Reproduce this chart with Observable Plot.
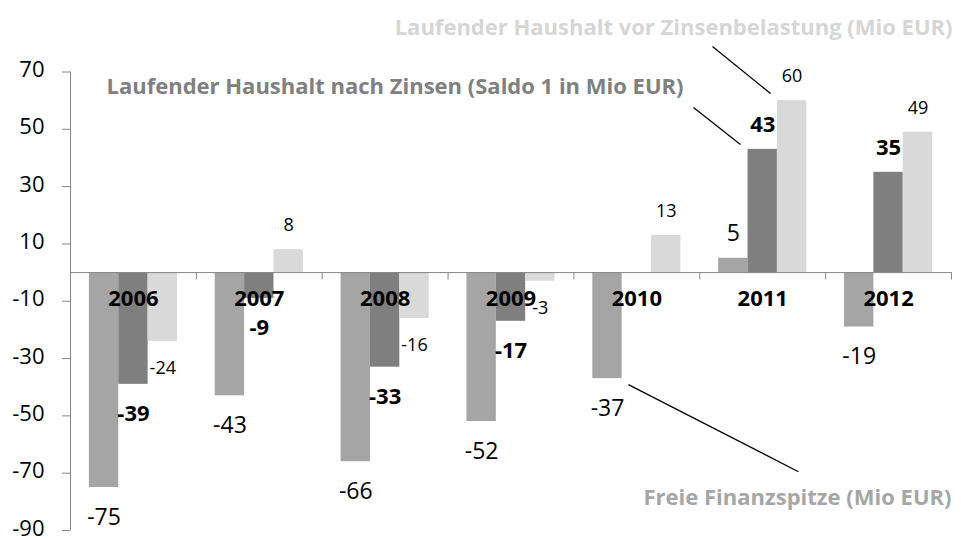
<!DOCTYPE html>
<html><head><meta charset="utf-8">
<script src="https://cdn.jsdelivr.net/npm/d3@7"></script>
<script src="https://cdn.jsdelivr.net/npm/@observablehq/plot@0.6"></script>
<style>
body{margin:0;background:#fff;}
#chart{width:961px;height:540px;overflow:hidden;}
</style>
</head><body><div id="chart"></div>
<script>
const years = ["2006","2007","2008","2009","2010","2011","2012"];
const seriesNames = [
  "Freie Finanzspitze (Mio EUR)",
  "Laufender Haushalt nach Zinsen (Saldo 1 in Mio EUR)",
  "Laufender Haushalt vor Zinsenbelastung (Mio EUR)"
];
const freieFinanzspitze = [-75, -43, -66, -52, -37, 5, -19];
const nachZinsen        = [-39, -9, -33, -17, null, 43, 35];
const vorZinsen         = [-24, 8, -16, -3, 13, 60, 49];
const yTicks = [70, 50, 30, 10, -10, -30, -50, -70, -90];

const seriesValues = [freieFinanzspitze, nachZinsen, vorZinsen];
const seriesColors = ["#a5a5a5", "#7f7f7f", "#d9d9d9"];

const rows = [];
seriesValues.forEach((vals, s) => vals.forEach((v, i) => {
  if (v != null) rows.push({year: years[i], i, s, series: seriesNames[s], value: v});
}));

const pad = 0.15, bw = 0.7 / 3;
const bx1 = d => d.i + pad + d.s * bw;
const bx2 = d => d.i + pad + (d.s + 1) * bw;
const bxc = d => d.i + pad + (d.s + 0.5) * bw;

const font = "'Open Sans', 'DejaVu Sans', sans-serif";
const labelStyle = [
  {fontSize: 23, fontWeight: "normal", dyNeg: 30, dyPos: -25},
  {fontSize: 22, fontWeight: "bold", dyNeg: 30, dyPos: -24},
  {fontSize: 18, fontWeight: "normal", dyNeg: 27, dyPos: -24}
];
const labelMarks = [];
labelStyle.forEach((st, s) => {
  labelMarks.push(Plot.text(rows.filter(d => d.s === s && d.value < 0), {
    x: bxc, y: "value", text: d => String(d.value), dy: st.dyNeg,
    fontSize: st.fontSize, fontWeight: st.fontWeight, fill: "#000"
  }));
  labelMarks.push(Plot.text(rows.filter(d => d.s === s && d.value >= 0), {
    x: bxc, y: "value", text: d => String(d.value), dy: st.dyPos,
    fontSize: st.fontSize, fontWeight: st.fontWeight, fill: "#000"
  }));
});

const chart = Plot.plot({
  width: 961,
  height: 540,
  marginLeft: 70,
  marginRight: 10,
  marginTop: 71.5,
  marginBottom: 10,
  style: {fontFamily: font, background: "#fff", color: "#000"},
  x: {type: "linear", domain: [0, years.length], axis: null},
  y: {domain: [-90, 70], axis: null},
  marks: [
    Plot.rectY(rows, {x1: bx1, x2: bx2, y1: 0, y2: "value",
      fill: d => seriesColors[d.s]}),
    // y axis line, ticks and labels
    Plot.ruleX([0], {y1: -90, y2: 70, stroke: "#868686", strokeWidth: 1}),
    Plot.ruleY(yTicks, {x1: -8 / 125.86, x2: 0, stroke: "#868686"}),
    Plot.text(yTicks, {x: 0, y: d => d, text: d => String(d), dx: -26, dy: -2,
      textAnchor: "end", fontSize: 22, fill: "#000"}),
    // zero line with category separators
    Plot.ruleY([0], {x1: 0, x2: years.length, stroke: "#868686"}),
    Plot.ruleX(d3.range(1, years.length + 1), {y1: 0, y2: -2.6, stroke: "#868686"}),
    Plot.text(years, {x: (d, i) => i + 0.5, y: 0, text: d => d, dy: 26,
      fontSize: 22, fontWeight: "bold", fill: "#000"}),
    ...labelMarks,
    // series callouts
    Plot.text([seriesNames[2]], {x: years.length, y: 85.2, text: d => d,
      textAnchor: "end", dx: 1, fontSize: 22, fontWeight: "bold", fill: "#d6d6d6"}),
    Plot.text([seriesNames[1]], {x: 0.286, y: 64.9, text: d => d,
      textAnchor: "start", fontSize: 22, fontWeight: "bold", fill: "#808080"}),
    Plot.text([seriesNames[0]], {x: years.length, y: -78.5, text: d => d,
      textAnchor: "end", dx: 0, fontSize: 22, fontWeight: "bold", fill: "#a6a6a6"}),
    Plot.link([{x1: 5.101, y1: 78.9, x2: 5.562, y2: 62.5},
               {x1: 4.950, y1: 57.6, x2: 5.323, y2: 44.7},
               {x1: 4.433, y1: -39.1, x2: 5.784, y2: -69.5}],
      {x1: "x1", y1: "y1", x2: "x2", y2: "y2", stroke: "#000", strokeWidth: 1.3})
  ]
});
document.getElementById("chart").appendChild(chart);
</script>
</body></html>
